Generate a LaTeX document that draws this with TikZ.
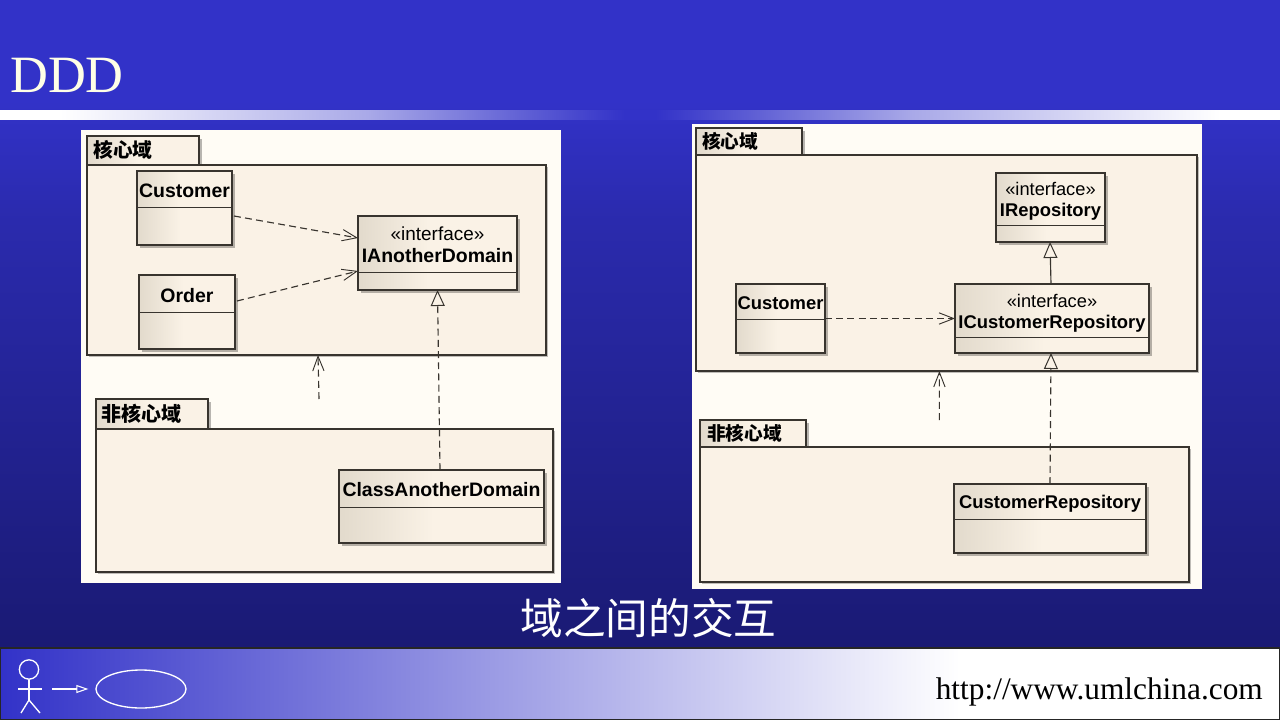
\documentclass[tikz,border=0pt]{standalone}
\usepackage{fontspec}
\setmainfont{Liberation Sans}
\newfontfamily\titlefont{Liberation Serif}
\newfontfamily\cjkfont{Noto Sans CJK SC}
\usetikzlibrary{arrows.meta,shadows,calc,shapes.geometric}
\definecolor{ink}{HTML}{38342E}
\definecolor{paper}{HTML}{FFFCF5}
\definecolor{boxfill}{HTML}{FAF2E6}
\definecolor{boxedge}{HTML}{E2DACC}
\definecolor{slideblue}{HTML}{3232C8}
\definecolor{slidedark}{HTML}{17176A}
\definecolor{titlecream}{HTML}{FFFFE6}
\pgfdeclarehorizontalshading{boxshade}{100bp}{color(0bp)=(boxedge); color(25bp)=(boxedge); color(48bp)=(boxfill); color(100bp)=(boxfill)}
\pgfdeclareverticalshading{slideshade}{100bp}{color(0bp)=(slidedark); color(25bp)=(slidedark); color(60bp)=(slideblue!72!slidedark); color(68bp)=(slideblue); color(100bp)=(slideblue)}
\pgfdeclarehorizontalshading{bandleft}{100bp}{color(0bp)=(white); color(29.7bp)=(white); color(44bp)=(slideblue!25!white); color(53.7bp)=(slideblue!42!white); color(63.3bp)=(slideblue!70!white); color(73.8bp)=(slideblue); color(100bp)=(slideblue)}
\pgfdeclarehorizontalshading{bandright}{100bp}{color(0bp)=(slideblue); color(26.2bp)=(slideblue); color(36.7bp)=(slideblue!70!white); color(46.3bp)=(slideblue!42!white); color(56bp)=(slideblue!25!white); color(70.3bp)=(white); color(100bp)=(white)}
\tikzset{
  umlshade/.style={shading=boxshade,draw=ink,line width=0.85pt,inner sep=0pt,outer sep=0pt,rectangle,
    drop shadow={shadow xshift=2.2pt,shadow yshift=-2.2pt,fill=black,opacity=0.28}},
  pkgbody/.style={fill=boxfill,draw=ink,line width=0.85pt,inner sep=0pt,outer sep=0pt,rectangle,
    drop shadow={shadow xshift=1.5pt,shadow yshift=-1.5pt,fill=black,opacity=0.25}},
  paneltone/.style={fill=paper,inner sep=0pt,outer sep=0pt,rectangle},
  divider/.style={draw=ink,line width=0.75pt},
  deparrow/.style={draw=ink,line width=0.85pt,dash pattern=on 5.2pt off 3.2pt,-{Straight Barb[length=11pt,width=8.5pt,line width=0.7pt]}},
  realize/.style={draw=ink,line width=0.85pt,dash pattern=on 5.2pt off 3.2pt,-{Triangle[open,length=12pt,width=10.5pt,fill=boxfill,line width=0.75pt]}},
  generalize/.style={draw=ink,line width=0.85pt,-{Triangle[open,length=12pt,width=10.5pt,fill=boxfill,line width=0.75pt]}},
  actorline/.style={draw=white,line width=1pt},
  pkglabel/.style={anchor=west,inner sep=0pt,text=black,font=\cjkfont\bfseries},
}
% [label offset] name x1 y1 x2 y2 ydiv label(text)
\newcommand{\umlclass}[8][1.2]{%
  \node[umlshade,minimum width={(#5-#3)*0.75pt},minimum height={(#6-#4)*0.75pt}] (#2) at ({(#3+#5)/2},{(#4+#6)/2}) {};
  \draw[divider] (#3,#7) -- (#5,#7);
  \node[inner sep=0pt,align=center] (#2-label) at ({(#3+#5)/2},{(#4+#7)/2+#1}) {#8};
}
% name x1 y1 x2 y2 (body) tabx2 taby1
\newcommand{\umlpackage}[7]{%
  \node[umlshade,minimum width={(#6-#2)*0.75pt},minimum height={(#3-#7)*0.75pt}] (#1-tab) at ({(#2+#6)/2},{(#7+#3)/2}) {};
  \node[pkgbody,minimum width={(#4-#2)*0.75pt},minimum height={(#5-#3)*0.75pt}] (#1) at ({(#2+#4)/2},{(#3+#5)/2}) {};
}
\newcommand{\bigname}[1]{{\fontsize{14.6}{17}\selectfont\bfseries #1}}
\newcommand{\smallname}[1]{{\fontsize{13.8}{16}\selectfont\bfseries #1}}
\newcommand{\stereoA}{{\fontsize{14.2}{17}\selectfont «interface»}}
\newcommand{\stereoB}{{\fontsize{13.7}{16}\selectfont «interface»}}
\begin{document}
\begin{tikzpicture}[x=0.75pt,y=-0.75pt]
\useasboundingbox (0,0) rectangle (1280,720);
% slide background
\node[shading=slideshade,inner sep=0pt,outer sep=0pt,minimum width=960pt,minimum height=540pt] (slide) at (640,360) {};
% title band
\node[shading=bandleft,inner sep=0pt,outer sep=0pt,minimum width=480pt,minimum height=6.75pt] (bandL) at (320,115.5) {};
\node[shading=bandright,inner sep=0pt,outer sep=0pt,minimum width=480pt,minimum height=6.75pt] (bandR) at (960,115.5) {};
\node[anchor=base west,inner sep=0pt,text=titlecream,font=\titlefont\fontsize{39.3}{44}\selectfont] (title) at (10,92.5) {DDD};
% left panel
\node[paneltone,minimum width=360pt,minimum height={453*0.75pt}] (panelA) at (321,356.5) {};
\umlpackage{coreA}{87}{165}{546}{355}{199}{136}
\node[pkglabel,font=\cjkfont\bfseries\fontsize{14.8}{17}\selectfont] (coreAlabel) at (93,150) {核心域};
\umlclass{custA}{137}{171}{232}{245}{208}{\bigname{Customer}}
\umlclass[2.2]{order}{139}{275}{235}{349}{312}{\bigname{Order}}
\umlclass{ianother}{358}{216}{517}{290}{272}{\stereoA\\[4.5pt]\bigname{IAnotherDomain}}
\umlpackage{restA}{96}{429}{553}{572}{208}{399}
\node[pkglabel,font=\cjkfont\bfseries\fontsize{15}{17}\selectfont] (restAlabel) at (101,414) {非核心域};
\umlclass{classanother}{339}{470}{544}{543}{507}{\bigname{ClassAnotherDomain}}
\coordinate (freeA) at (319,399);
\draw[deparrow] ([shift={(2,-0)}]custA.east |- 0,216) -- ([shift={(0,-15)}]ianother.west);
\draw[deparrow] ([shift={(2,0)}]order.east |- 0,301) -- ([shift={(0,18)}]ianother.west);
\draw[realize] ([shift={(-1.5,0)}]classanother.north) -- (ianother.south);
\draw[deparrow] (freeA) -- ([shift={(1.5,0)}]coreA.south);
% right panel
\node[paneltone,minimum width=382.5pt,minimum height={465*0.75pt}] (panelB) at (947,356.5) {};
\umlpackage{coreB}{696}{155}{1197}{371}{802}{128}
\node[pkglabel,font=\cjkfont\bfseries\fontsize{14}{17}\selectfont] (coreBlabel) at (702,141) {核心域};
\umlclass{custB}{736}{284}{825}{353}{319}{\smallname{Customer}}
\umlclass[2.2]{irepo}{996}{173}{1105}{242}{226}{\stereoB\\[3.75pt]\smallname{IRepository}}
\umlclass[3.2]{icustrepo}{955}{284}{1149}{353}{337}{\stereoB\\[3.75pt]\smallname{ICustomerRepository}}
\umlpackage{restB}{700}{447}{1189}{582}{806}{420}
\node[pkglabel,font=\cjkfont\bfseries\fontsize{14}{17}\selectfont] (restBlabel) at (707,433) {非核心域};
\umlclass[2.7]{custrepo}{954}{484}{1146}{553}{519}{\smallname{CustomerRepository}}
\coordinate (freeB) at (939.4,420);
\draw[deparrow] (custB.east) -- (custB.east -| icustrepo.west);
\draw[generalize] ([shift={(-1,0)}]icustrepo.north) -- ([shift={(-0.5,0)}]irepo.south);
\draw[realize] (custrepo.north) -- ([shift={(-1,0)}]icustrepo.south);
\draw[deparrow] (freeB) -- ([shift={(-7.1,0)}]coreB.south);
% caption
\node[inner sep=0pt,text=white,font=\cjkfont\fontsize{32}{36}\selectfont] (caption) at (648.5,618) {域之间的交互};
% footer
\node[left color=slideblue,right color=white,inner sep=0pt,outer sep=0pt,minimum width=720pt,minimum height=54pt,anchor=north west] (footerL) at (0,648) {};
\node[fill=white,inner sep=0pt,outer sep=0pt,minimum width=240pt,minimum height=54pt,anchor=north west] (footerR) at (960,648) {};
\draw[draw=black!85,line width=0.8pt] (0.5,648) -- (1279.5,648) -- (1279.5,719.5) -- (0.5,719.5) -- cycle;
% actor
\node[circle,actorline,fill=none,minimum size=14.5pt,inner sep=0pt] (head) at (29,669.5) {};
\coordinate (hip) at (29,700);
\coordinate (armL) at (18,689);
\coordinate (armR) at (42,689);
\coordinate (footL) at (21,713);
\coordinate (footR) at (40,713);
\draw[actorline] (head.south) -- (hip);
\draw[actorline] (armL) -- (armR);
\draw[actorline] (footL) -- (hip) -- (footR);
\node[ellipse,actorline,minimum width=67.5pt,minimum height=28.5pt,inner sep=0pt] (usecase) at (141,689) {};
\coordinate (flowstart) at (52,689);
\draw[actorline,line width=0.9pt,-{Triangle[open,length=9pt,width=6pt,line width=0.8pt]}] (flowstart) -- ([shift={(-7,0)}]usecase.west);
\node[anchor=base east,inner sep=0pt,text=black,font=\titlefont\fontsize{23.5}{28}\selectfont] (url) at (1263,699) {http://www.umlchina.com};
\end{tikzpicture}
\end{document}
